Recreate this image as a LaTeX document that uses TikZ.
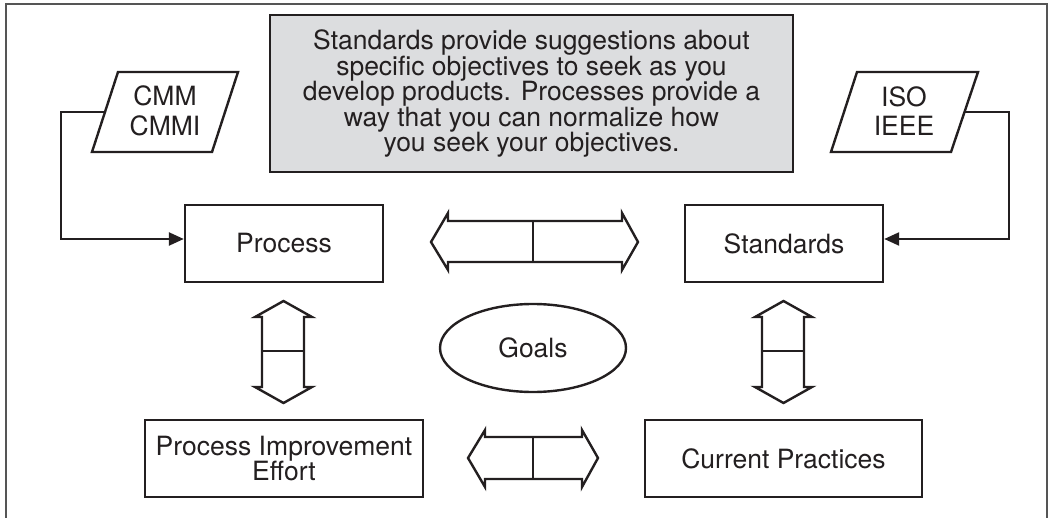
\documentclass[tikz,border=0pt]{standalone}
\usepackage{fontspec}
\setmainfont{TeX Gyre Heros}
\usetikzlibrary{arrows.meta,shapes.geometric,calc}
\definecolor{ink}{RGB}{35,31,32}
\definecolor{boxgray}{RGB}{220,221,223}
\definecolor{framegray}{RGB}{85,85,85}
\begin{document}
\begin{tikzpicture}[x=1pt,y=-1pt,
  every node/.style={font=\fontsize{26.5}{25.5}\selectfont, text=ink, inner sep=0pt, align=center},
  rbox/.style={draw=ink, line width=2.4pt, fill=white, minimum height=77pt},
  notebox/.style={draw=ink, line width=2.4pt, fill=boxgray, minimum width=523pt, minimum height=157pt},
  goalshape/.style={ellipse, draw=ink, line width=2.4pt, minimum width=186pt, minimum height=88pt},
  para/.style={draw=ink, line width=2.4pt, line join=miter},
  dblarrow/.style={draw=ink, line width=2.4pt, line join=miter},
  conn/.style={draw=ink, line width=2.4pt, -{Triangle[length=15pt,width=13pt]}},
  frameline/.style={draw=framegray, line width=1.4pt}
]
\useasboundingbox (0,0) rectangle (1051,518);
% outer frame (open at the bottom)
\draw[frameline] (6,518) -- (6,4) -- (1047,4) -- (1047,518);

% note box
\node[notebox] (note) at (531.5,93.5) {Standards provide suggestions about\\specific objectives to seek as you\\develop products. Processes provide a\\way that you can normalize how\\you seek your objectives.};

% parallelograms
\draw[para] (118,72) -- (238,72) -- (212,152) -- (92,152) -- cycle;
\node[font=\fontsize{26.5}{29.5}\selectfont] (cmm) at (165,111) {CMM\\CMMI};
\coordinate (cmmL) at (105,112);
\draw[para] (857,72) -- (978,72) -- (951,152) -- (831,152) -- cycle;
\node[font=\fontsize{26.5}{29.5}\selectfont] (iso) at (904,111) {ISO\\IEEE};
\coordinate (isoR) at (964.5,112);

% boxes
\node[rbox, minimum width=198pt] (proc) at (284,243.5) {Process};
\node[rbox, minimum width=198pt] (std) at (784,243.5) {Standards};
\node[rbox, minimum width=278pt] (pie) at (284,458.5) {Process Improvement\\Effort};
\node[rbox, minimum width=277pt] (cur) at (783.5,458.5) {Current Practices};
\node[goalshape] (goals) at (533,348) {Goals};

% connectors
\draw[conn] (cmmL) -- (61,112) |- (proc.west |- 0,239);
\draw[conn] (isoR) -- (1009,112) |- (std.east |- 0,239);

% double arrows (horizontal, top)
\draw[dblarrow] (431,242) -- (448,213) -- (448,221) -- (622,221) -- (622,213) -- (638,242)
  -- (622,270) -- (622,262) -- (448,262) -- (448,270) -- cycle;
\draw[dblarrow] (533,221) -- (533,262);
% horizontal, bottom
\draw[dblarrow] (468,458) -- (485,430) -- (485,437) -- (582,437) -- (582,430) -- (598,458)
  -- (582,487) -- (582,479) -- (485,479) -- (485,487) -- cycle;
\draw[dblarrow] (533,437) -- (533,479);
% vertical, left
\draw[dblarrow] (283.5,301) -- (312,317) -- (304,317) -- (304,387) -- (312,387) -- (283.5,403)
  -- (255,387) -- (262,387) -- (262,317) -- (255,317) -- cycle;
\draw[dblarrow] (262,351) -- (304,351);
% vertical, right
\draw[dblarrow] (783.5,301) -- (812,317) -- (804,317) -- (804,387) -- (812,387) -- (783.5,403)
  -- (755,387) -- (762,387) -- (762,317) -- (755,317) -- cycle;
\draw[dblarrow] (762,351) -- (804,351);
\end{tikzpicture}
\end{document}
